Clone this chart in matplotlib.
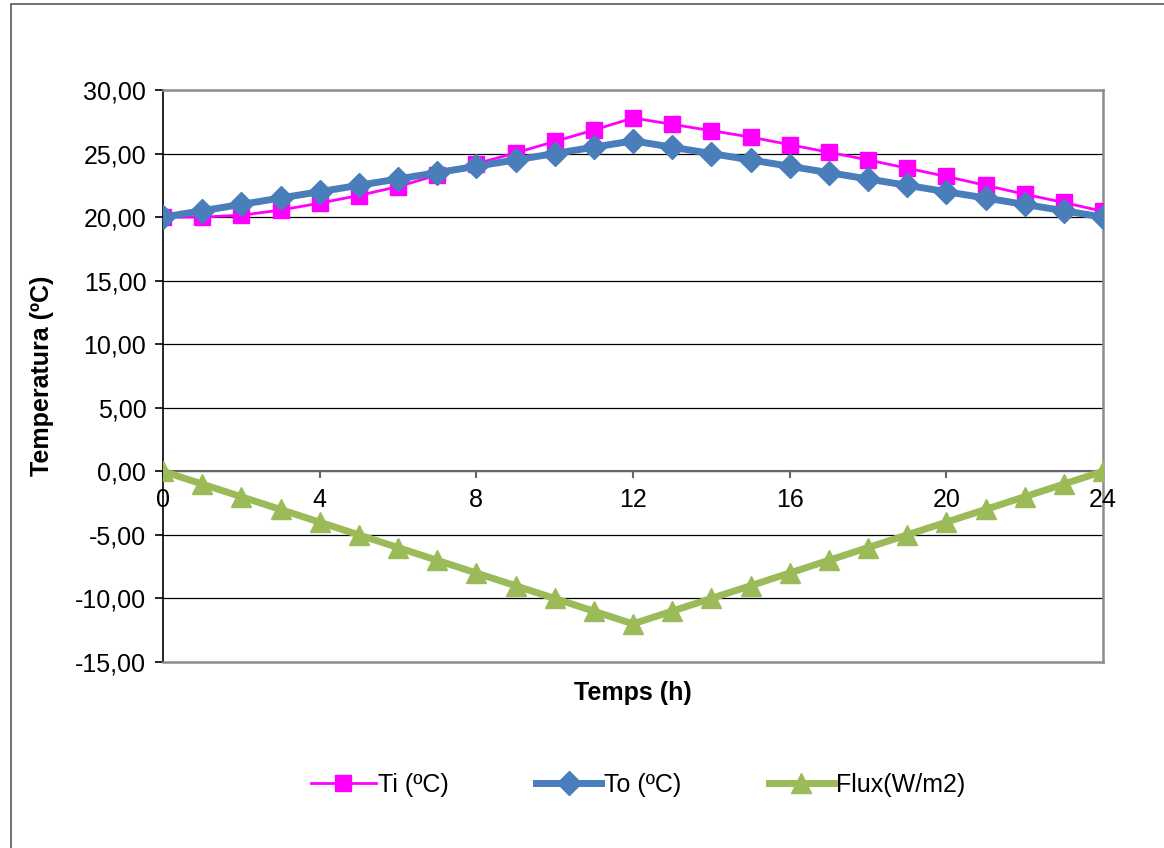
import numpy as np
import matplotlib
matplotlib.use("Agg")
import matplotlib.pyplot as plt
from matplotlib.patches import Rectangle

plt.rcParams['font.family'] = ['Liberation Sans', 'DejaVu Sans']

hours = list(range(25))
ti = [20.0, 20.0, 20.15, 20.55, 21.1, 21.7, 22.4, 23.3, 24.2, 25.05, 25.95, 26.85, 27.8,
      27.3, 26.8, 26.3, 25.7, 25.1, 24.5, 23.85, 23.2, 22.5, 21.8, 21.15, 20.45]
to = [20.0, 20.5, 21.0, 21.5, 22.0, 22.5, 23.0, 23.5, 24.0, 24.5, 25.0, 25.5, 26.0,
      25.5, 25.0, 24.5, 24.0, 23.5, 23.0, 22.5, 22.0, 21.5, 21.0, 20.5, 20.0]
flux = [0, -1, -2, -3, -4, -5, -6, -7, -8, -9, -10, -11, -12,
        -11, -10, -9, -8, -7, -6, -5, -4, -3, -2, -1, 0]
xticks = [0, 4, 8, 12, 16, 20, 24]
yticks = [-15, -10, -5, 0, 5, 10, 15, 20, 25, 30]

fig = plt.figure(figsize=(11.64, 8.48), dpi=100)
# outer chart border
fig.patches.append(Rectangle((11 / 1164, -0.01), 1.1, 1 - 4 / 848 + 0.01, transform=fig.transFigure,
                             fill=False, edgecolor='#5a5a5a', linewidth=1.2))

ax = fig.add_axes([163 / 1164, 1 - 662 / 848, 940 / 1164, 572 / 848])
ax.set_xlim(0, 24)
ax.set_ylim(-15, 30)

for y in yticks[1:-1]:
    ax.axhline(y, color='black', linewidth=0.9, zorder=1)

ax.plot(hours, ti, color='#FF00FF', linewidth=2, marker='s', markersize=11,
        label='Ti (ºC)', zorder=4)
ax.plot(hours, to, color='#4A7EBB', linewidth=5, marker='D', markersize=12,
        label='To (ºC)', zorder=5)
ax.plot(hours, flux, color='#9BBB59', linewidth=5, marker='^', markersize=14,
        label='Flux(W/m2)', zorder=5)

ax.spines['left'].set_color('black')
ax.spines['left'].set_linewidth(1.2)
for s in ['top', 'right', 'bottom']:
    ax.spines[s].set_color('#8c8c8c')
    ax.spines[s].set_linewidth(1.8)

ax.set_yticks(yticks)
ax.set_yticklabels([f"{v:.2f}".replace('.', ',') for v in yticks], fontsize=18)
ax.tick_params(axis='y', length=6, width=1.2, direction='out', pad=6)

ax.set_xticks([])
# category axis crossing at y = 0
ax.axhline(0, color='#666666', linewidth=1.5, zorder=2)
for x in xticks:
    ax.plot([x, x], [0, -0.45], color='#666666', linewidth=1.5, zorder=2, clip_on=False)
    ax.text(x, -1.35, str(x), ha='center', va='top', fontsize=18, zorder=3)

ax.set_ylabel('Temperatura (ºC)', fontsize=18, fontweight='bold', labelpad=15)
ax.set_xlabel('Temps (h)', fontsize=18, fontweight='bold', labelpad=14)

fig.legend(loc='center', bbox_to_anchor=(638 / 1164, 1 - 785 / 848), ncol=3,
           frameon=False, fontsize=18, handlelength=2.6, handletextpad=0.1,
           columnspacing=3.5)

fig.savefig('out.png', dpi=100)
